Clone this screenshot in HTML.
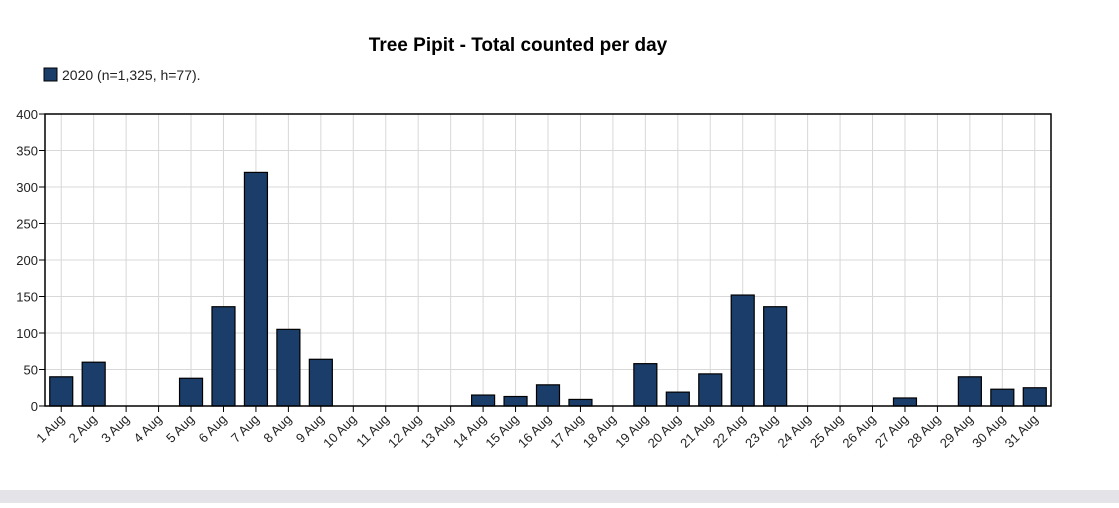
<!DOCTYPE html>
<html><head><meta charset="utf-8"><style>
body{margin:0;width:1119px;height:503px;background:#fff;font-family:"Liberation Sans",sans-serif;overflow:hidden}
</style></head><body>
<svg width="1119" height="503" id="c">
<rect x="0" y="490" width="1119" height="13" fill="#e4e4e8"/>
<text x="518" y="51" text-anchor="middle" font-size="19" font-weight="bold" fill="#000">Tree Pipit - Total counted per day</text>
<g>
<rect x="44" y="68" width="13" height="13" fill="#1b3d6a" stroke="#000" stroke-width="1"/>
<text x="62" y="80" font-size="14" fill="#222">2020 (n=1,325, h=77).</text>
</g>
<g id="grid"></g><g id="bars"></g><g id="axes"></g>
</svg>
<script>
const categories=["1 Aug","2 Aug","3 Aug","4 Aug","5 Aug","6 Aug","7 Aug","8 Aug","9 Aug","10 Aug","11 Aug","12 Aug","13 Aug","14 Aug","15 Aug","16 Aug","17 Aug","18 Aug","19 Aug","20 Aug","21 Aug","22 Aug","23 Aug","24 Aug","25 Aug","26 Aug","27 Aug","28 Aug","29 Aug","30 Aug","31 Aug"];
const values=[40,60,0,0,38,136,320,105,64,0,0,0,0,15,13,29,9,0,58,19,44,152,136,0,0,0,11,0,40,23,25];
const yTicks=[0,50,100,150,200,250,300,350,400];
const NS="http://www.w3.org/2000/svg";
const L=45,R=1051,T=114,B=406,yMax=400;
const bw=(R-L)/categories.length;
const x=i=>L+bw*(i+0.5);
const y=v=>B-(v/yMax)*(B-T);
function mk(p,tag,a){const e=document.createElementNS(NS,tag);for(const k in a)e.setAttribute(k,a[k]);p.appendChild(e);return e;}
const g=document.getElementById('grid'),b=document.getElementById('bars'),ax=document.getElementById('axes');
yTicks.forEach(t=>{
 const l=mk(g,'line',{x1:L,x2:R,y1:y(t),y2:y(t),stroke:'#d8d8d8','stroke-width':1});
 
 
 const tk=mk(ax,'line',{x1:L-6,x2:L,y1:y(t),y2:y(t),stroke:'#000'});
 
 
 const tx=mk(ax,'text',{x:L-7,y:y(t)+5,'text-anchor':'end','font-size':13,fill:'#222'});
 tx.textContent=t;
 
 
});
categories.forEach((c,i)=>{
 const l=mk(g,'line',{x1:x(i),x2:x(i),y1:T,y2:B,stroke:'#d8d8d8','stroke-width':1});
 
 
 if(values[i]>0){
  const r=mk(b,'rect',{x:x(i)-11.5,y:y(values[i]),width:23,height:B-y(values[i]),fill:'#1b3d6a',stroke:'#000','stroke-width':1.2});
  
  
 }
 const tk=mk(ax,'line',{x1:x(i),x2:x(i),y1:B,y2:B+6,stroke:'#000'});
 
 
 const tx=mk(ax,'text',{x:x(i)+4,y:B+14,'text-anchor':'end','font-size':13,fill:'#222',transform:`rotate(-45 ${x(i)+4} ${B+14})`});
 tx.textContent=c;
 
 
});
const f=mk(ax,'rect',{x:L,y:T,width:R-L,height:B-T,fill:'none',stroke:'#000','stroke-width':1.5});


</script>
</body></html>
